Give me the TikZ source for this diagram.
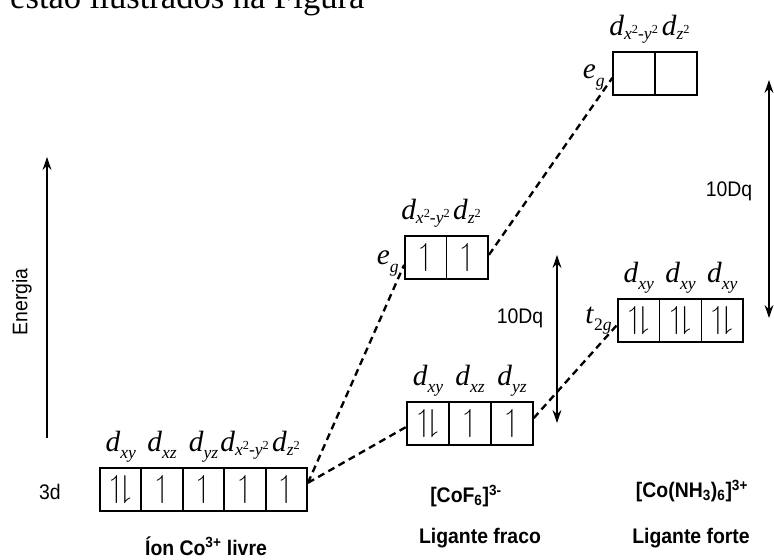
\documentclass[tikz,border=0pt]{standalone}
\usepackage{amsmath,amssymb}
\usepackage{fontspec}
\setmainfont{Liberation Serif}
\newfontfamily\condfont[FakeStretch=0.92]{Liberation Sans}
\usetikzlibrary{arrows.meta}

\newcommand{\eup}{$\upharpoonleft$}
\newcommand{\epair}{$\upharpoonleft\!\downharpoonright$}
% orbital names: italic letter with a low subscript
\newcommand{\orbsym}[3][-6pt]{\textit{#2}\raisebox{#1}{\fontsize{15}{15}\selectfont\itshape #3}}
\newcommand{\dorb}[2][-6pt]{\orbsym[#1]{d}{#2}}
\newcommand{\dsq}{\dorb[-4pt]{x\textsuperscript{\upshape 2}\kern-0.5pt{\upshape -}y\textsuperscript{\upshape 2}}}
\newcommand{\dzz}{\dorb[-4pt]{z\textsuperscript{\upshape 2}}}

\tikzset{
  orb/.style={draw, line width=1.4pt, minimum width=1.25cm, minimum height=1.29cm,
    inner sep=0pt, font=\fontsize{27}{27}\selectfont},
  orblabel/.style={font=\fontsize{25}{25}\selectfont, anchor=base, inner sep=0pt},
  tag/.style={font=\condfont\fontsize{18}{18}\selectfont},
  tagbold/.style={font=\condfont\bfseries\fontsize{18}{18}\selectfont},
  link/.style={line width=2pt, dash pattern=on 6pt off 4pt},
}

\begin{document}
\begin{tikzpicture}[x=0.03cm, y=-0.03cm, >={Stealth[length=11pt,width=7.5pt]}]
  \useasboundingbox (0,0) rectangle (774,560);

  % text of the page, cut at the top
  \node[anchor=base west, inner sep=0pt, font=\fontsize{29.5}{29.5}\selectfont] (pagetext) at (10,9) {estão ilustrados na Figura};

  % energy axis
  \coordinate (en0) at (47,438);
  \coordinate (en1) at (47,157);
  \draw[->, line width=1.3pt] (en0) -- (en1);
  \node[tag, rotate=90] (energia) at (22,302) {Energia};

  % free ion
  \foreach \x/\e [count=\i] in {120.7/\epair, 162.1/\eup, 203.5/\eup, 244.9/\eup, 286.3/\eup}
    \node[orb] (ion\i) at (\x,489.5) {\e};
  \node[orblabel] at ([yshift=0.48cm]ion1.north) {\dorb{xy}};
  \node[orblabel] at ([yshift=0.48cm]ion2.north) {\dorb{xz}};
  \node[orblabel] at ([yshift=0.48cm]ion3.north) {\dorb{yz}};
  \node[orblabel] at ([yshift=0.48cm]ion4.north) {\dsq};
  \node[orblabel] at ([yshift=0.48cm]ion5.north) {\dzz};
  \node[tag] (tres) at (50,492) {3d};
  \node[tagbold] (ion) at (206,546) {Íon Co\textsuperscript{3+} livre};

  % [CoF6]3-
  \foreach \x/\e [count=\i] in {428/\epair, 470/\eup, 512/\eup}
    \node[orb] (ft\i) at (\x,423.5) {\e};
  \foreach \x/\e [count=\i] in {425.8/\eup, 467.3/\eup}
    \node[orb] (feg\i) at (\x,257.5) {\e};
  \node[orblabel] at ([yshift=0.48cm]ft1.north) {\dorb{xy}};
  \node[orblabel] at ([yshift=0.48cm]ft2.north) {\dorb{xz}};
  \node[orblabel] at ([yshift=0.48cm]ft3.north) {\dorb{yz}};
  \node[orblabel] at ([yshift=0.48cm]feg1.north) {\dsq};
  \node[orblabel] at ([yshift=0.48cm]feg2.north) {\dzz};
  \node[orblabel, anchor=base east] (fegname) at (399,264) {\orbsym[-7pt]{e}{g}};
  \node[tagbold] (cof) at (466,496) {[CoF\textsubscript{6}]\textsuperscript{3-}};
  \node[tagbold] (fraco) at (480,538) {Ligante fraco};

  % [Co(NH3)6]3+
  \foreach \x/\e [count=\i] in {638.8/\epair, 680.5/\epair, 722.2/\epair}
    \node[orb] (nt\i) at (\x,320.5) {\e};
  \foreach \x [count=\i] in {634, 676}
    \node[orb] (neg\i) at (\x,73.5) {};
  \foreach \i in {1,2,3}
    \node[orblabel] at ([yshift=0.48cm]nt\i.north) {\dorb{xy}};
  \node[orblabel] at ([yshift=0.48cm]neg1.north) {\dsq};
  \node[orblabel] at ([yshift=0.48cm]neg2.north) {\dzz};
  \node[orblabel, anchor=base east] (negname) at (605,78) {\orbsym[-7pt]{e}{g}};
  \node[orblabel, anchor=base east] (ntname) at (612,323) {\orbsym{t}{\upshape 2\itshape g}};
  \node[tagbold] (conh) at (692,491) {[Co(NH\textsubscript{3})\textsubscript{6}]\textsuperscript{3+}};
  \node[tagbold] (forte) at (691,538) {Ligante forte};

  % splitting
  \draw[link] ([yshift=0.2cm]ion5.east) -- ([yshift=-0.22cm]feg1.west);
  \draw[link] ([yshift=0.2cm]ion5.east) -- ([yshift=-0.1cm]ft1.west);
  \draw[link] ([yshift=0.08cm]feg2.east) -- ([yshift=-0.13cm]neg1.west);
  \draw[link] ([yshift=0.16cm]ft3.east) -- ([yshift=-0.13cm]nt1.west);

  % 10Dq
  \coordinate (dqa) at (557,255);
  \coordinate (dqb) at (557,423);
  \draw[<->, line width=1.3pt] (dqa) -- (dqb);
  \node[tag] (dqfraco) at (520,318) {10Dq};
  \coordinate (dqc) at (769,80);
  \coordinate (dqd) at (769,318);
  \draw[<->, line width=1.3pt] (dqc) -- (dqd);
  \node[tag] (dqforte) at (729,191) {10Dq};
\end{tikzpicture}
\end{document}
